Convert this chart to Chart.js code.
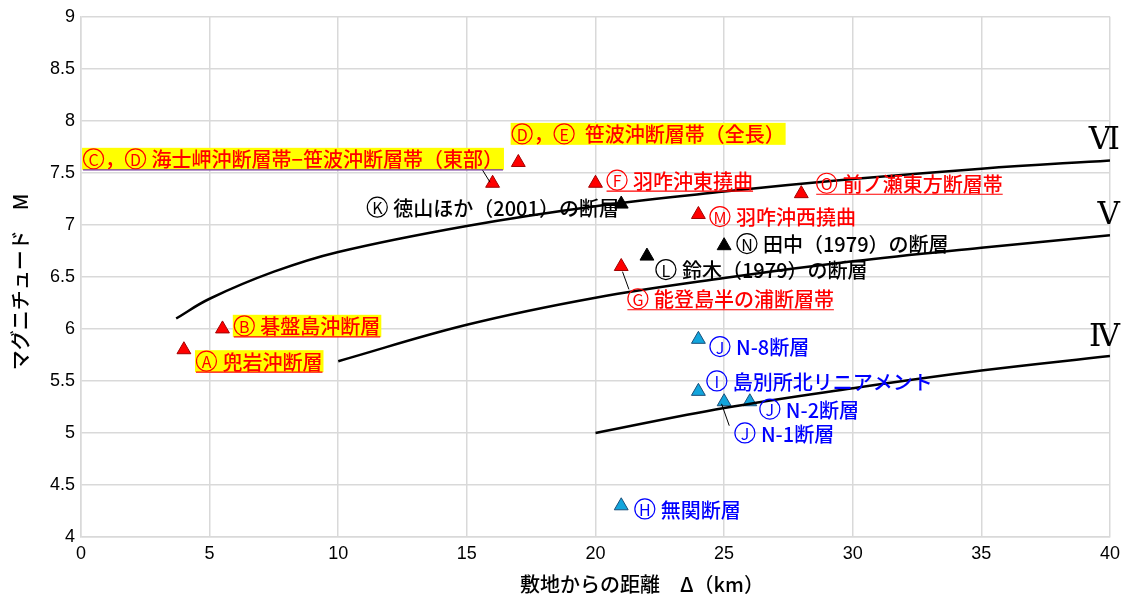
<!DOCTYPE html>
<html>
<head>
<meta charset="utf-8">
<script src="https://cdn.jsdelivr.net/npm/chart.js@4/dist/chart.umd.min.js"></script>
<style>
  html, body { margin: 0; padding: 0; background: #fff; }
  #wrap { width: 1126px; height: 605px; position: relative; }
</style>
</head>
<body>
<div id="wrap"><canvas id="chart"></canvas></div>
<script>
// ===== DATA =====
const xTicks = [0, 5, 10, 15, 20, 25, 30, 35, 40];
const yTicks = [4, 4.5, 5, 5.5, 6, 6.5, 7, 7.5, 8, 8.5, 9];

// intensity boundary curves
const curveVI_x = [3.7, 5, 7.5, 10, 15, 20, 25, 30, 35, 40];
const curveVI_y = [6.1, 6.29, 6.55, 6.74, 6.99, 7.18, 7.32, 7.44, 7.54, 7.62];
const curveV_x = [10, 15, 20, 25, 30, 35, 40];
const curveV_y = [5.69, 6.04, 6.3, 6.49, 6.65, 6.78, 6.9];
const curveIV_x = [20, 25, 30, 35, 40];
const curveIV_y = [5.0, 5.24, 5.43, 5.6, 5.74];

// faults
const redX = [4, 5.5, 16, 17, 20, 24, 28, 21];
const redY = [5.8, 6.0, 7.4, 7.6, 7.4, 7.1, 7.3, 6.6];
const blackX = [21, 22, 25];
const blackY = [7.2, 6.7, 6.8];
const blueX = [24, 24, 25, 26, 21];
const blueY = [5.9, 5.4, 5.3, 5.3, 4.3];

// labels: text, x, y (data units, left / middle), colour, yellow box, underline
const labelText = [
  "Ⓒ，Ⓓ 海士岬沖断層帯−笹波沖断層帯（東部）",
  "Ⓓ，Ⓔ  笹波沖断層帯（全長）",
  "Ⓕ 羽咋沖東撓曲",
  "Ⓞ 前ノ瀬東方断層帯",
  "Ⓚ 徳山ほか（2001）の断層",
  "Ⓜ 羽咋沖西撓曲",
  "Ⓝ 田中（1979）の断層",
  "Ⓛ 鈴木（1979）の断層",
  "Ⓖ 能登島半の浦断層帯",
  "Ⓑ 碁盤島沖断層",
  "Ⓐ 兜岩沖断層",
  "Ⓙ N-8断層",
  "Ⓘ 島別所北リニアメント",
  "Ⓙ N-2断層",
  "Ⓙ N-1断層",
  "Ⓗ 無関断層",
];
const labelX = [0.08, 16.74, 20.43, 28.58, 11.11, 24.43, 25.48, 22.33, 21.24, 5.94, 4.47, 24.43, 24.31, 26.37, 25.4, 21.51];
const labelY = [7.635, 7.875, 7.43, 7.4, 7.17, 7.08, 6.82, 6.57, 6.29, 6.03, 5.69, 5.83, 5.5, 5.23, 5.0, 4.27];
const labelColor = ["red", "red", "red", "red", "black", "red", "black", "black", "red", "red", "red", "blue", "blue", "blue", "blue", "blue"];
const labelBox = [true, true, false, false, false, false, false, false, false, true, true, false, false, false, false, false];
const labelLine = [true, false, true, true, false, false, false, false, true, true, true, false, false, false, false, false];

// leader lines (data units)
const leaders = [
  [15.6, 7.53, 15.9, 7.41],
  [21.05, 6.55, 21.3, 6.38],
  [24.9, 5.28, 25.2, 5.07],
];

const romanText = ["Ⅵ", "Ⅴ", "Ⅳ"];
const romanY = [7.81, 7.09, 5.91];

const xTitle = "敷地からの距離　Δ（km）";
const yTitle = "マグニチュード　M";

const colors = { red: "#ff0000", black: "#000000", blue: "#0000ff" };
const FONT = '"Noto Sans CJK JP"';

const toPts = (xs, ys) => xs.map((x, i) => ({ x, y: ys[i] }));

const curveStyle = {
  showLine: true,
  borderColor: "#000",
  borderWidth: 2.5,
  pointRadius: 0,
  tension: 0.4,
  fill: false,
};

// circled latin capitals are drawn by hand, so they come out full width
const isCircled = (ch) => {
  const c = ch.codePointAt(0);
  return c >= 0x24b6 && c <= 0x24cf;
};

function runWidth(ctx, text) {
  let w = 0;
  for (const ch of text) {
    w += isCircled(ch) ? 22 : ctx.measureText(ch).width;
  }
  return w;
}

function drawRich(ctx, text, x, y, color) {
  let cx = x;
  const baseFont = ctx.font;
  for (const ch of text) {
    if (isCircled(ch)) {
      const letter = String.fromCharCode(ch.codePointAt(0) - 0x24b6 + 65);
      ctx.save();
      ctx.strokeStyle = color;
      ctx.lineWidth = 1.2;
      ctx.beginPath();
      ctx.arc(cx + 10.5, y, 10, 0, Math.PI * 2);
      ctx.stroke();
      ctx.font = "16px " + FONT;
      ctx.textAlign = "center";
      ctx.fillStyle = color;
      ctx.fillText(letter, cx + 10.5, y + 1);
      ctx.restore();
      ctx.font = baseFont;
      cx += 22;
    } else {
      ctx.fillStyle = color;
      ctx.fillText(ch, cx, y + 1);
      cx += ctx.measureText(ch).width;
    }
  }
}

const labelPlugin = {
  id: "labels",
  afterDatasetsDraw(chart) {
    const ctx = chart.ctx;
    const xs = chart.scales.x;
    const ys = chart.scales.y;
    ctx.save();

    // leader lines
    ctx.strokeStyle = "#000";
    ctx.lineWidth = 1;
    leaders.forEach((l) => {
      ctx.beginPath();
      ctx.moveTo(xs.getPixelForValue(l[0]), ys.getPixelForValue(l[1]));
      ctx.lineTo(xs.getPixelForValue(l[2]), ys.getPixelForValue(l[3]));
      ctx.stroke();
    });

    ctx.font = "500 20px " + FONT;
    ctx.textBaseline = "middle";
    ctx.textAlign = "left";
    labelText.forEach((t, i) => {
      const px = xs.getPixelForValue(labelX[i]);
      const py = ys.getPixelForValue(labelY[i]);
      const w = runWidth(ctx, t);
      if (labelBox[i]) {
        ctx.fillStyle = "#ffff00";
        ctx.fillRect(px - 1, py - 11, w + 2, 22);
      }
      drawRich(ctx, t, px, py, colors[labelColor[i]]);
      if (labelLine[i]) {
        ctx.strokeStyle = i === 0 ? "#7030a0" : colors[labelColor[i]];
        ctx.lineWidth = 1.2;
        ctx.beginPath();
        ctx.moveTo(px, py + 11);
        ctx.lineTo(px + w, py + 11);
        ctx.stroke();
      }
    });

    // roman numerals for the intensity curves
    ctx.font = '31px "DejaVu Serif"';
    ctx.fillStyle = "#000";
    ctx.textAlign = "right";
    romanText.forEach((t, i) => {
      ctx.fillText(t, 1120, ys.getPixelForValue(romanY[i]));
    });

    // axis titles
    ctx.font = "500 20px " + FONT;
    ctx.textAlign = "center";
    ctx.fillText(xTitle, 642, 584);
    ctx.translate(20, 282);
    ctx.rotate(-Math.PI / 2);
    ctx.fillText(yTitle, 0, 0);
    ctx.restore();
  },
};

new Chart(document.getElementById("chart"), {
  type: "scatter",
  data: {
    datasets: [
      { label: "VI", data: toPts(curveVI_x, curveVI_y), ...curveStyle },
      { label: "V", data: toPts(curveV_x, curveV_y), ...curveStyle },
      { label: "IV", data: toPts(curveIV_x, curveIV_y), ...curveStyle },
      {
        label: "red",
        data: toPts(redX, redY),
        pointStyle: "triangle",
        pointRadius: 8,
        backgroundColor: "#ff0000",
        borderColor: "#a00000",
        borderWidth: 1,
      },
      {
        label: "black",
        data: toPts(blackX, blackY),
        pointStyle: "triangle",
        pointRadius: 8,
        backgroundColor: "#000000",
        borderColor: "#000000",
        borderWidth: 1,
      },
      {
        label: "blue",
        data: toPts(blueX, blueY),
        pointStyle: "triangle",
        pointRadius: 8,
        backgroundColor: "#12a5dc",
        borderColor: "#1a4f7a",
        borderWidth: 1,
      },
    ],
  },
  options: {
    responsive: true,
    maintainAspectRatio: false,
    animation: false,
    layout: { padding: { top: 16, right: 15, left: 0, bottom: 0 } },
    plugins: {
      legend: { display: false },
      tooltip: { enabled: false },
    },
    scales: {
      x: {
        type: "linear",
        min: 0,
        max: 40,
        afterBuildTicks: (s) => { s.ticks = xTicks.map((v) => ({ value: v })); },
        afterFit: (s) => { s.height = 68; },
        grid: { color: "#d9d9d9", lineWidth: 1.5, drawTicks: false },
        border: { color: "#d9d9d9", width: 1.5 },
        ticks: {
          color: "#000",
          padding: 6,
          font: { family: "Liberation Sans", size: 18 },
          callback: (v) => String(v),
        },
      },
      y: {
        type: "linear",
        min: 4,
        max: 9,
        afterBuildTicks: (s) => { s.ticks = yTicks.map((v) => ({ value: v })); },
        afterFit: (s) => { s.width = 81; },
        grid: { color: "#d9d9d9", lineWidth: 1.5, drawTicks: false },
        border: { color: "#d9d9d9", width: 1.5 },
        ticks: {
          color: "#000",
          padding: 6,
          font: { family: "Liberation Sans", size: 18 },
          callback: (v) => String(v),
        },
      },
    },
  },
  plugins: [labelPlugin],
});
</script>
</body>
</html>
